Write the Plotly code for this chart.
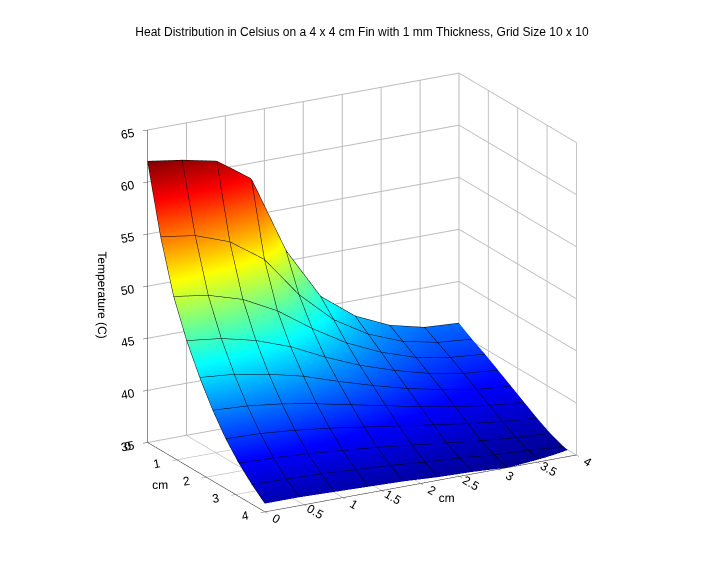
import plotly.graph_objects as go

x = [0, 0.444, 0.889, 1.333, 1.778, 2.222, 2.667, 3.111, 3.556, 4.0]
y = [0, 0.444, 0.889, 1.333, 1.778, 2.222, 2.667, 3.111, 3.556, 4.0]
temp = [
    [62.0, 61.5, 60.8, 58.5, 51.0, 46.0, 43.5, 42.0, 41.2, 41.0],
    [55.5, 55.0, 53.8, 51.5, 47.5, 44.5, 42.5, 41.2, 40.5, 40.2],
    [50.5, 50.0, 49.0, 47.3, 45.0, 43.0, 41.5, 40.4, 39.8, 39.5],
    [47.0, 46.6, 45.8, 44.6, 43.0, 41.6, 40.5, 39.6, 39.0, 38.7],
    [44.2, 43.9, 43.3, 42.5, 41.4, 40.4, 39.5, 38.8, 38.2, 37.9],
    [41.8, 41.6, 41.2, 40.6, 39.9, 39.2, 38.5, 37.9, 37.4, 37.1],
    [39.8, 39.7, 39.4, 39.0, 38.5, 38.0, 37.5, 37.0, 36.6, 36.3],
    [38.2, 38.1, 37.9, 37.6, 37.3, 36.9, 36.5, 36.1, 35.8, 35.6],
    [36.9, 36.8, 36.7, 36.5, 36.3, 36.0, 35.8, 35.5, 35.3, 35.1],
    [35.8, 35.8, 35.7, 35.6, 35.5, 35.3, 35.2, 35.0, 34.9, 34.8],
]

jet = [[0, '#00008f'], [0.125, '#0000ff'], [0.375, '#00ffff'], [0.625, '#ffff00'],
       [0.875, '#ff0000'], [1, '#800000']]

fig = go.Figure(go.Surface(
    x=x, y=y, z=temp, colorscale=jet, showscale=False, cmin=34.8, cmax=62,
    contours=dict(
        x=dict(show=True, start=0, end=4.0, size=4/9, color='black', width=1),
        y=dict(show=True, start=0, end=4.0, size=4/9, color='black', width=1),
    ),
    lighting=dict(ambient=1, diffuse=0, specular=0, fresnel=0),
))

tf = dict(size=12, family='Liberation Sans', color='black')
ax = dict(showbackground=False, gridcolor='#bbbbbb', linecolor='black', showline=True,
          zeroline=False, ticks='outside', tickfont=tf)
fig.update_layout(
    width=708, height=566, paper_bgcolor='white',
    margin=dict(l=0, r=0, t=30, b=0),
    title=dict(text='Heat Distribution in Celsius on a 4 x 4 cm Fin with 1 mm Thickness, Grid Size 10 x 10',
               x=0.5, y=0.965, font=tf),
    scene=dict(
        domain=dict(x=[0.0, 1], y=[0.05, 1.0]),
        xaxis=dict(ax, title=dict(text='cm', font=tf), range=[0, 4], dtick=0.5),
        yaxis=dict(ax, title=dict(text='cm', font=tf), range=[4, 0], dtick=1),
        zaxis=dict(ax, title=dict(text='Temperature (C)', font=tf), range=[35, 65], dtick=5),
        aspectmode='manual', aspectratio=dict(x=1.4, y=0.95, z=1.3),
        camera=dict(eye=dict(x=-0.6, y=-1.08, z=0.43), projection=dict(type='orthographic')),
    ),
)
fig.write_html('out.html')
